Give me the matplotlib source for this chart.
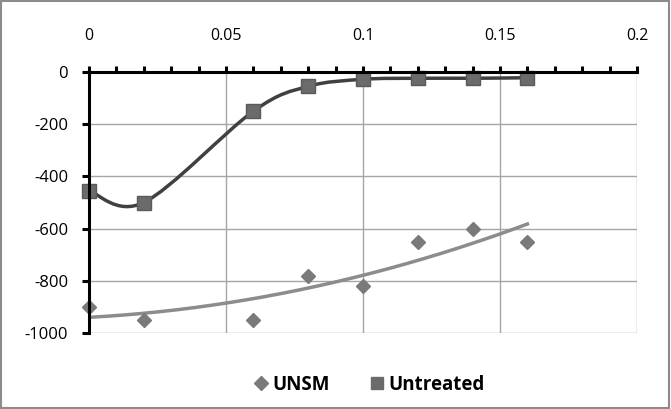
import numpy as np
import matplotlib
matplotlib.use("Agg")
import matplotlib.pyplot as plt
from matplotlib.path import Path
from matplotlib.patches import PathPatch, Rectangle
from matplotlib.lines import Line2D

plt.rcParams['font.family'] = ['Open Sans', 'DejaVu Sans']

x_vals = [0, 0.02, 0.06, 0.08, 0.1, 0.12, 0.14, 0.16]
unsm = [-900, -950, -950, -780, -820, -650, -600, -650]
untreated = [-455, -500, -150, -55, -28, -24, -24, -22]
x_ticks = [0, 0.05, 0.1, 0.15, 0.2]
x_tick_labels = ['0', '0.05', '0.1', '0.15', '0.2']
y_ticks = [0, -200, -400, -600, -800, -1000]
y_tick_labels = ['0', '-200', '-400', '-600', '-800', '-1000']

fig = plt.figure(figsize=(6.71, 4.09), dpi=100)
ax = fig.add_axes([89/671, 1 - 333/409, (637-89)/671, (333-72)/409])
ax.set_xlim(0, 0.2)
ax.set_ylim(-1000, 0)

# gridlines
for xt in x_ticks[1:]:
    ax.axvline(xt, color='#a6a6a6', lw=1.0, zorder=0)
for yt in y_ticks[1:]:
    ax.axhline(yt, color='#a6a6a6', lw=1.0, zorder=0)

for s in ['right', 'bottom']:
    ax.spines[s].set_visible(False)
ax.spines['left'].set_linewidth(2.2)
ax.spines['top'].set_linewidth(2.2)
ax.spines['left'].set_zorder(5)
ax.spines['top'].set_zorder(5)

ax.xaxis.tick_top()
ax.set_xticks(x_ticks)
ax.set_xticklabels(x_tick_labels)
ax.set_xticks(np.arange(0, 0.2001, 0.01), minor=True)
ax.tick_params(axis='x', which='both', direction='out', length=4, width=2.2, pad=16, labelsize=11.5)
ax.set_yticks(y_ticks)
ax.set_yticklabels(y_tick_labels)
ax.tick_params(axis='y', direction='out', length=5, width=2.2, pad=10, labelsize=12)

# Excel-style smoothed line for Untreated
P = np.column_stack([x_vals, untreated]).astype(float)
n = len(P)
verts = [P[0]]
codes = [Path.MOVETO]
for i in range(n - 1):
    p_prev = P[i - 1] if i > 0 else P[i]
    p_next2 = P[i + 2] if i + 2 < n else P[i + 1]
    c1 = P[i] + (P[i + 1] - p_prev) / 6
    c2 = P[i + 1] - (p_next2 - P[i]) / 6
    verts += [c1, c2, P[i + 1]]
    codes += [Path.CURVE4] * 3
ax.add_patch(PathPatch(Path(verts, codes), fill=False, edgecolor='#404040', lw=2.5, zorder=3, clip_on=False))
ax.plot(x_vals, untreated, linestyle='none', marker='s', markersize=10, color='#6b6b6b',
        markeredgecolor='#5a5a5a', zorder=4, clip_on=False)

# UNSM with polynomial trendline
coef = np.polyfit(x_vals, unsm, 2)
xt = np.linspace(min(x_vals), max(x_vals), 200)
ax.plot(xt, np.polyval(coef, xt), color='#8c8c8c', lw=2.5, zorder=2)
ax.plot(x_vals, unsm, linestyle='none', marker='D', markersize=7, color='#7a7a7a', zorder=4, clip_on=False)

# legend
handles = [Line2D([], [], linestyle='none', marker='D', markersize=7, color='#7a7a7a'),
           Line2D([], [], linestyle='none', marker='s', markersize=8, color='#6b6b6b')]
fig.legend(handles, ['UNSM', 'Untreated'], loc='center', bbox_to_anchor=(368/671, 1 - 385/409),
           ncol=2, frameon=False, prop={'weight': 'bold', 'size': 13.5}, handletextpad=0.1,
           columnspacing=2.0, handlelength=1.0)

# outer border
fig.patches.append(Rectangle((0.002, 0.003), 0.995, 0.994, transform=fig.transFigure,
                             fill=False, edgecolor='#8c8c8c', lw=1.5))

fig.savefig('out.png', dpi=100)
